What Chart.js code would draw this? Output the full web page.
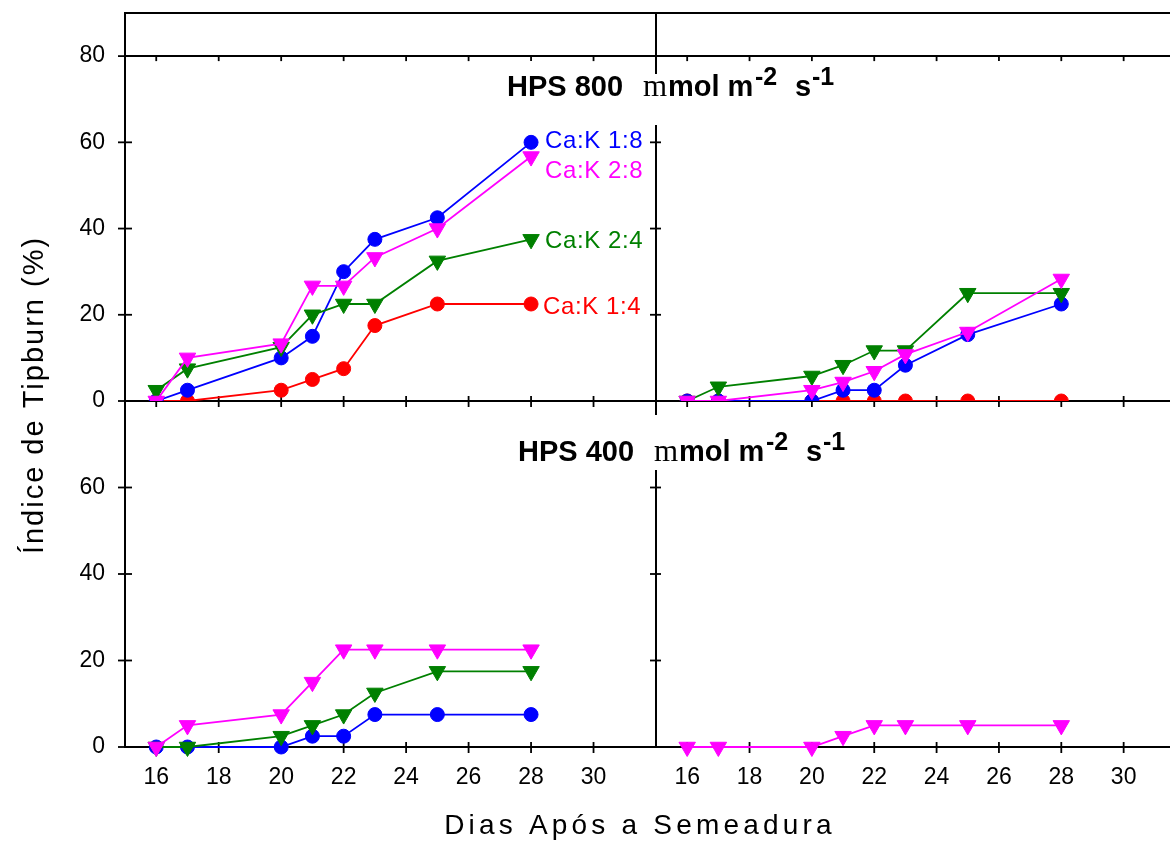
<!DOCTYPE html>
<html lang="pt-BR">
<head>
<meta charset="utf-8">
<title>Índice de Tipburn</title>
<script src="https://cdn.jsdelivr.net/npm/chart.js@4.4.1/dist/chart.umd.min.js"></script>
<style>
  html, body { margin: 0; padding: 0; background: #fff; overflow: hidden; }
  #wrap { position: relative; width: 1170px; height: 843px; overflow: hidden; }
  canvas { position: absolute; left: 0; top: 0; }
</style>
</head>
<body>
<div id="wrap"><canvas id="tipburn" width="1190" height="843"></canvas></div>
<script>
// Índice de tipburn (%) x dias após a semeadura — 4 painéis (HPS 800 em cima, HPS 400 embaixo)
const DIAS = [16, 17, 20, 21, 22, 23, 25, 28];
const X_TICKS = [16, 18, 20, 22, 24, 26, 28, 30];
const Y_TICKS_800 = [0, 20, 40, 60, 80];
const Y_TICKS_400 = [0, 20, 40, 60];

// HPS 800 — coluna esquerda
const H800_ESQ_18 = [0, 2.5, 10, 15, 30, 37.5, 42.5, 60];
const H800_ESQ_28 = [0, 10, 13.3, 26.7, 26.7, 33.3, 40, 56.7];
const H800_ESQ_24 = [2.5, 7.5, 12.5, 20, 22.5, 22.5, 32.5, 37.5];
const H800_ESQ_14 = [0, 0, 2.5, 5, 7.5, 17.5, 22.5, 22.5];
// HPS 800 — coluna direita
const H800_DIR_18 = [0, 0, 0, 2.5, 2.5, 8.3, 15.4, 22.5];
const H800_DIR_28 = [0, 0, 2.5, 4.4, 6.9, 10.8, 16, 28.3];
const H800_DIR_24 = [0, 3.3, 5.8, 8.3, 11.7, 11.7, 25, 25];
const H800_DIR_14 = [0, 0, 0, 0, 0, 0, 0, 0];
// HPS 400 — coluna esquerda
const H400_ESQ_18 = [0, 0, 0, 2.5, 2.5, 7.5, 7.5, 7.5];
const H400_ESQ_28 = [0, 5, 7.5, 15, 22.5, 22.5, 22.5, 22.5];
const H400_ESQ_24 = [0, 0, 2.5, 5, 7.5, 12.5, 17.5, 17.5];
// HPS 400 — coluna direita
const H400_DIR_28 = [0, 0, 0, 2.5, 5, 5, 5, 5];

const NOMES = { c18: 'Ca:K 1:8', c28: 'Ca:K 2:8', c24: 'Ca:K 2:4', c14: 'Ca:K 1:4' };
const CORES = { c18: '#0000ff', c28: '#ff00ff', c24: '#008000', c14: '#ff0000' };

const FONTE = "'Liberation Sans', Arial, sans-serif";
const SERIFA = "'Liberation Serif', 'Times New Roman', serif";

function serie(k, vals, xId, yId) {
  const tri = (k === 'c28' || k === 'c24');
  return {
    label: NOMES[k],
    data: DIAS.map((d, i) => ({ x: d, y: vals[i] })),
    xAxisID: xId, yAxisID: yId,
    borderColor: CORES[k], backgroundColor: CORES[k],
    pointBackgroundColor: CORES[k], pointBorderColor: CORES[k],
    borderWidth: 1.8, pointBorderWidth: 1,
    pointStyle: tri ? 'triangle' : 'circle',
    rotation: tri ? 180 : 0,
    pointRadius: tri ? 9.5 : 7,
    tension: 0, clip: false,
    cortaBase: yId === 'yT' // painel de cima: marcadores cortados no eixo
  };
}

// ordem: o primeiro fica por cima
const DATASETS = [
  serie('c28', H800_ESQ_28, 'xL', 'yT'), serie('c24', H800_ESQ_24, 'xL', 'yT'),
  serie('c18', H800_ESQ_18, 'xL', 'yT'), serie('c14', H800_ESQ_14, 'xL', 'yT'),
  serie('c28', H800_DIR_28, 'xR', 'yT'), serie('c24', H800_DIR_24, 'xR', 'yT'),
  serie('c18', H800_DIR_18, 'xR', 'yT'), serie('c14', H800_DIR_14, 'xR', 'yT'),
  serie('c28', H400_ESQ_28, 'xL', 'yB'), serie('c24', H400_ESQ_24, 'xL', 'yB'),
  serie('c18', H400_ESQ_18, 'xL', 'yB'),
  serie('c28', H400_DIR_28, 'xR', 'yB')
];

// recorte por painel (só embaixo do painel de cima)
const recorte = {
  id: 'recorte',
  beforeDatasetDraw(chart, args) {
    const ds = chart.data.datasets[args.index];
    if (!ds.cortaBase) return;
    const ctx = chart.ctx;
    ctx.save();
    ctx.beginPath();
    ctx.rect(0, 0, chart.width, chart.scales[ds.yAxisID].bottom);
    ctx.clip();
  },
  afterDatasetDraw(chart, args) {
    if (chart.data.datasets[args.index].cortaBase) chart.ctx.restore();
  }
};

// moldura + marcas cruzando os eixos
const moldura = {
  id: 'moldura',
  beforeDatasetsDraw(chart) {
    const { ctx } = chart;
    const { xL, xR, yT, yB } = chart.scales;
    const esq = xL.left, meio = xR.left, dir = xR.right;
    const topo = yT.top, y80 = yT.getPixelForValue(80), yMeio = yT.bottom, base = yB.bottom;
    const reta = (x1, y1, x2, y2) => { ctx.beginPath(); ctx.moveTo(x1, y1); ctx.lineTo(x2, y2); ctx.stroke(); };
    ctx.save();
    ctx.strokeStyle = '#000';
    ctx.lineWidth = 2;
    [topo, y80, yMeio, base].forEach(y => reta(esq - 1, y, dir, y));
    [esq, meio, dir].forEach(x => reta(x, topo - 1, x, base + 1));
    ctx.lineWidth = 1.8;
    [xL, xR].forEach(sc => sc.ticks.forEach(t => {
      const x = sc.getPixelForValue(t.value);
      reta(x, y80, x, y80 + 5);
      reta(x, yMeio - 5, x, yMeio + 6);
      reta(x, base - 5, x, base + 6);
    }));
    [yT, yB].forEach(sc => sc.ticks.forEach(t => {
      const y = sc.getPixelForValue(t.value);
      reta(esq - 7, y, esq + 7, y);
      reta(meio - 6, y, meio + 5, y);
      reta(dir - 5, y, dir + 5, y);
    }));
    ctx.restore();
  }
};

function tituloHPS(ctx, valor, x0, base, caixa) {
  ctx.fillStyle = '#fff';
  ctx.fillRect(caixa[0], caixa[1], caixa[2], caixa[3]);
  const partes = [
    ['HPS ' + valor, 0, 0, 'bold 29px ' + FONTE],
    ['m', 136, 0, '31px ' + SERIFA],
    ['mol m', 161, 0, 'bold 29px ' + FONTE],
    ['-2', 248, -11, 'bold 25px ' + FONTE],
    ['s', 288, 0, 'bold 29px ' + FONTE],
    ['-1', 305, -11, 'bold 25px ' + FONTE]
  ];
  ctx.fillStyle = '#000';
  ctx.textAlign = 'left';
  ctx.textBaseline = 'alphabetic';
  partes.forEach(([t, dx, dy, f]) => { ctx.font = f; ctx.fillText(t, x0 + dx, base + dy); });
}

const textos = {
  id: 'textos',
  afterDraw(chart) {
    const { ctx } = chart;
    const { xL, yT } = chart.scales;
    ctx.save();
    tituloHPS(ctx, '800', 507, 96, [495, 74, 350, 51]);
    tituloHPS(ctx, '400', 518, 461, [505, 415, 345, 55]);

    // rótulos das séries, ao lado do último ponto (painel HPS 800 esquerdo)
    ctx.font = '24px ' + FONTE;
    ctx.letterSpacing = '0.6px';
    ctx.textAlign = 'left';
    ctx.textBaseline = 'alphabetic';
    const xr = xL.getPixelForValue(DIAS[DIAS.length - 1]);
    [['c18', H800_ESQ_18, 14, 5.5], ['c28', H800_ESQ_28, 14, 21], ['c24', H800_ESQ_24, 14, 9], ['c14', H800_ESQ_14, 12, 9.5]]
      .forEach(([k, vals, dx, dy]) => {
        ctx.fillStyle = CORES[k];
        ctx.fillText(NOMES[k], xr + dx, yT.getPixelForValue(vals[vals.length - 1]) + dy);
      });

    // títulos dos eixos
    ctx.fillStyle = '#000';
    ctx.font = '28px ' + FONTE;
    ctx.letterSpacing = '4.2px';
    ctx.textAlign = 'center';
    ctx.fillText('Dias Após a Semeadura', 640, 834);
    ctx.save();
    ctx.translate(43, 395);
    ctx.rotate(-Math.PI / 2);
    ctx.font = '29px ' + FONTE;
    ctx.letterSpacing = '2px';
    ctx.fillText('Índice de Tipburn (%)', 0, 0);
    ctx.restore();
    ctx.restore();
  }
};

// largura/altura fixas dos eixos (os rótulos são recortados na caixa do eixo),
// sem a folga automática que o Chart.js reserva para os rótulos das pontas
const fixaX = s => { s.height = 60; s.paddingLeft = 0; s.paddingRight = 0; };
const fixaY = s => { s.width = 125; s.paddingTop = 0; s.paddingBottom = 0; };
const fonteTick = { family: FONTE, size: 23 };

function eixoX(peso) {
  return {
    type: 'linear', axis: 'x', position: 'bottom', stack: 'colunas', stackWeight: peso,
    min: 15, max: 32,
    afterBuildTicks: s => { s.ticks = X_TICKS.map(v => ({ value: v })); },
    afterFit: fixaX,
    grid: { display: false, drawTicks: false }, border: { display: false },
    ticks: { color: '#000', font: fonteTick, padding: 17, maxRotation: 0, autoSkip: false }
  };
}
function eixoY(peso, max, marcas, ordem) {
  return {
    type: 'linear', axis: 'y', position: 'left', stack: 'linhas', stackWeight: peso,
    weight: ordem, // maior peso fica em cima
    min: 0, max: max,
    afterBuildTicks: s => { s.ticks = marcas.map(v => ({ value: v })); },
    afterFit: fixaY,
    grid: { display: false, drawTicks: false }, border: { display: false },
    ticks: { color: '#000', font: fonteTick, padding: 20 }
  };
}

new Chart(document.getElementById('tipburn'), {
  type: 'line',
  data: { datasets: DATASETS },
  options: {
    responsive: false, animation: false, devicePixelRatio: 1, events: [],
    layout: { autoPadding: false, padding: { left: 0, right: 4, top: 13, bottom: 36 } },
    plugins: { legend: { display: false }, tooltip: { enabled: false } },
    scales: {
      xL: eixoX(531), xR: eixoX(530),
      yT: eixoY(388, 90, Y_TICKS_800, 1), yB: eixoY(346, 80, Y_TICKS_400, 0)
    }
  },
  plugins: [recorte, moldura, textos]
});
</script>
</body>
</html>
